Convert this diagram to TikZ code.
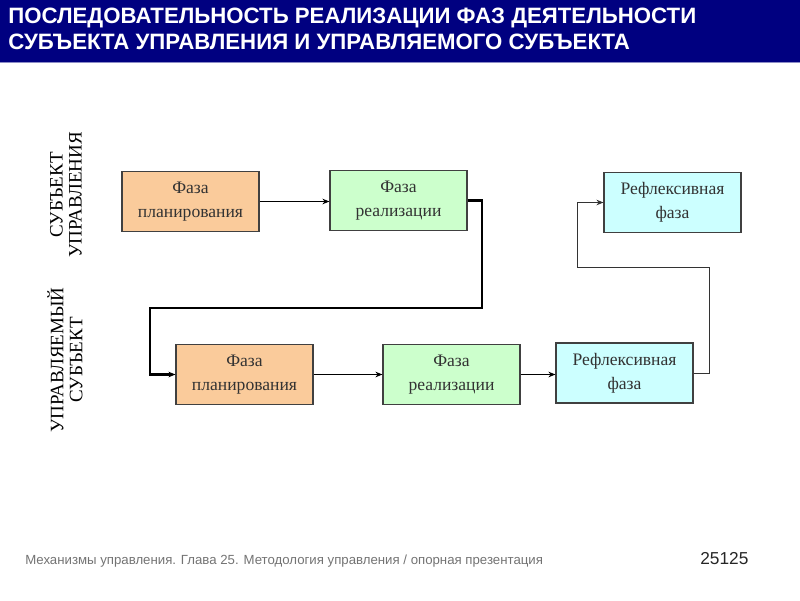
\documentclass[tikz,border=0pt]{standalone}
\usepackage{fontspec}
\setmainfont{Liberation Serif}
\setsansfont{Liberation Sans}
\usetikzlibrary{arrows.meta}

\definecolor{navy}{RGB}{0,0,128}
\definecolor{planfill}{RGB}{250,203,155}
\definecolor{realfill}{RGB}{204,255,204}
\definecolor{reflfill}{RGB}{204,255,255}

\tikzset{
	phase/.style={draw=black!75, line width=0.8pt, minimum width=3.425cm, minimum height=1.5cm,
		align=center, inner sep=0pt, font=\fontsize{12.5}{17}\selectfont, text=black!80},
	link/.style={-{Stealth[length=5pt,width=4pt]}, line width=1pt},
	boldlink/.style={-{Stealth[length=5pt,width=4pt]}, line width=2pt},
	backlink/.style={-{Stealth[length=5pt,width=4pt]}, line width=0.6pt, draw=black!80},
	sidelabel/.style={rotate=90, align=center, font=\fontsize{13.5}{13.5}\selectfont}
}

\begin{document}
\begin{tikzpicture}[x=0.025cm, y=-0.025cm]
		\useasboundingbox (0,0) rectangle (800,600);
		% header
		\fill[navy] (0,0) rectangle (800,62);
		\draw[navy!45, line width=1pt] (0,62.5) -- (800,62.5);
		\node (title) [anchor=north west, align=left, text=white, inner sep=0pt,
			font=\sffamily\bfseries\fontsize{15.8}{18.5}\selectfont] at (8,8)
			{ПОСЛЕДОВАТЕЛЬНОСТЬ РЕАЛИЗАЦИИ ФАЗ ДЕЯТЕЛЬНОСТИ\\СУБЪЕКТА УПРАВЛЕНИЯ И УПРАВЛЯЕМОГО СУБЪЕКТА};
		
		% side labels
		\node (subj) [sidelabel] at (66,195) {СУБЪЕКТ\\УПРАВЛЕНИЯ};
		\node (obj) [sidelabel] at (65,360) {УПРАВЛЯЕМЫЙ\\СУБЪЕКТ};
		
		% phases
		\node (plan1) [phase, fill=planfill] at (190.5,201.5) {Фаза\\планирования};
		\node (real1) [phase, fill=realfill] at (398.5,200.5) {Фаза\\реализации};
		\node (refl1) [phase, fill=reflfill] at (672.5,202.5) {Рефлексивная\\фаза};
		\node (plan2) [phase, fill=planfill] at (244.5,374.5) {Фаза\\планирования};
		\node (real2) [phase, fill=realfill] at (451.5,374.5) {Фаза\\реализации};
		\node (refl2) [phase, fill=reflfill] at (624.5,373) {Рефлексивная\\фаза};
		
		% connectors
		\coordinate (c1) at (482,308);
		\coordinate (c2) at (150,308);
		\coordinate (c3) at (709,267);
		\coordinate (c4) at (577,267);
		\draw[link] (plan1.east) -- (plan1.east -| real1.west);
		\draw[boldlink] (real1.east) -| (c1) -- (c2) |- (plan2.west);
		\draw[link] (plan2) -- (real2);
		\draw[link] (real2) -- (real2 -| refl2.west);
		\draw[backlink] (refl2.east) -| (c3) -- (c4) |- (refl1.west);
		
		% footer
		\node (foot) [anchor=base west, inner sep=0pt, text=black!55, font=\sffamily\fontsize{9.4}{11}\selectfont] at (25,564)
			{Механизмы управления. Глава 25. Методология управления / опорная презентация};
		\node (page) [anchor=base west, inner sep=0pt, text=black!85, font=\sffamily\fontsize{12.3}{14}\selectfont] at (700,564) {25125};
		
		\end{tikzpicture}
\end{document}
